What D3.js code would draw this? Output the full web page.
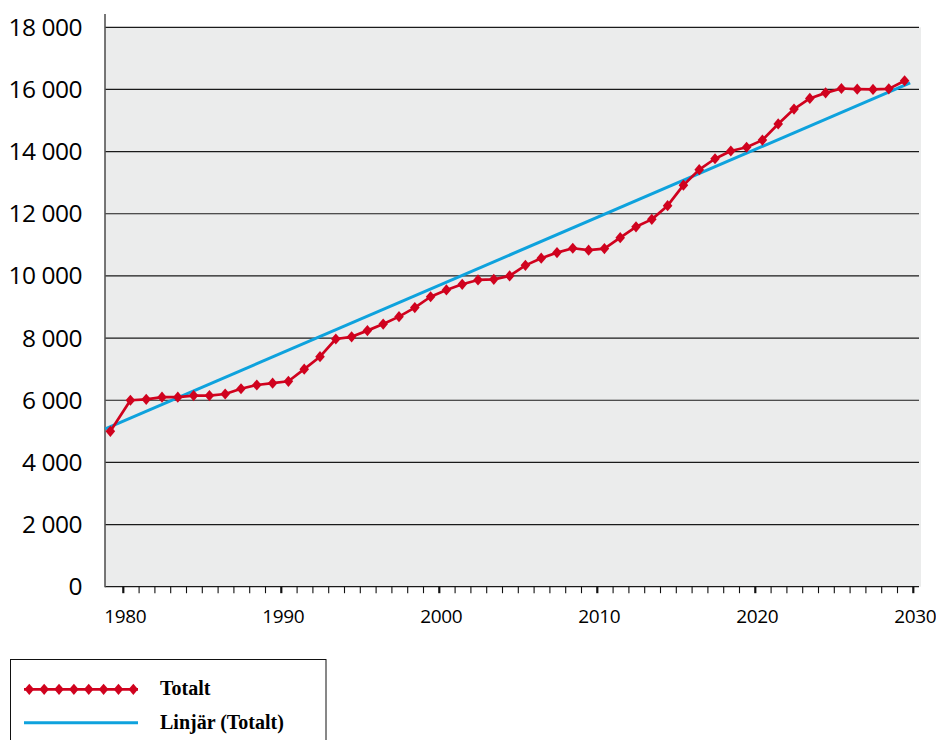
<!DOCTYPE html>
<html>
<head>
<meta charset="utf-8">
<script src="https://cdn.jsdelivr.net/npm/d3@7/dist/d3.min.js"></script>
<style>
  html, body { margin: 0; padding: 0; background: #fff; }
  svg { display: block; }
</style>
</head>
<body>
<svg id="chart" width="936" height="740"></svg>
<script>
// ---- data ----
const times = [1979.18, 1980.45, 1981.45, 1982.45, 1983.45, 1984.45, 1985.45, 1986.45, 1987.45, 1988.45,
  1989.45, 1990.45, 1991.45, 1992.45, 1993.45, 1994.45, 1995.45, 1996.45, 1997.45, 1998.45,
  1999.45, 2000.45, 2001.45, 2002.45, 2003.45, 2004.45, 2005.45, 2006.45, 2007.45, 2008.45,
  2009.45, 2010.45, 2011.45, 2012.45, 2013.45, 2014.45, 2015.45, 2016.45, 2017.45, 2018.45,
  2019.45, 2020.45, 2021.45, 2022.45, 2023.45, 2024.45, 2025.45, 2026.45, 2027.45, 2028.45,
  2029.45];
const totalt = [5000, 6000, 6030, 6100, 6100, 6150, 6150, 6200, 6370, 6490,
  6550, 6610, 7000, 7400, 7970, 8040, 8240, 8450, 8690, 8980,
  9330, 9550, 9730, 9870, 9890, 10000, 10340, 10570, 10750, 10890,
  10830, 10880, 11230, 11580, 11820, 12260, 12920, 13420, 13770, 14020,
  14140, 14370, 14890, 15370, 15710, 15890, 16030, 16010, 16000, 16020,
  16280];
const trendTimes = [1978.86, 2029.8];
const trendValues = [5080, 16210];
const yTicks = [0, 2000, 4000, 6000, 8000, 10000, 12000, 14000, 16000, 18000];
const xMajorTicks = [1980, 1990, 2000, 2010, 2020, 2030];
const xMinorTicks = d3.range(1980, 2031);
const legendLabels = ["Totalt", "Linjär (Totalt)"];

const RED = "#d0021e";
const BLUE = "#0ea2dd";

const svg = d3.select("#chart");

const plotLeft = 105, plotRight = 921, plotTop = 27.3, plotBottom = 586.7;
const x = d3.scaleLinear().domain([1980, 2030]).range([123.3, 913.3]);
const y = d3.scaleLinear().domain([0, 18000]).range([plotBottom, plotTop]);

// background
svg.append("rect")
  .attr("x", plotLeft).attr("y", plotTop)
  .attr("width", plotRight - plotLeft).attr("height", plotBottom - plotTop)
  .attr("fill", "#ebecec");

// gridlines
svg.append("g").selectAll("line").data(yTicks).join("line")
  .attr("x1", plotLeft).attr("x2", plotRight - 2)
  .attr("y1", d => y(d)).attr("y2", d => y(d))
  .attr("stroke", "#1a1a1a").attr("stroke-width", 1.2);

// y labels
const fmt = d => d === 0 ? "0" : d3.format(",")(d).replace(",", " ");
svg.append("g").selectAll("text").data(yTicks).join("text")
  .attr("x", 82).attr("y", d => y(d))
  .attr("dy", "0.35em")
  .attr("text-anchor", "end")
  .attr("font-family", "'Open Sans', sans-serif")
  .attr("font-size", 24.5)
  .attr("letter-spacing", "-0.5")
  .attr("fill", "#000")
  .text(fmt);

// left axis line
svg.append("line")
  .attr("x1", plotLeft).attr("x2", plotLeft)
  .attr("y1", 14).attr("y2", plotBottom + 0.5)
  .attr("stroke", "#555").attr("stroke-width", 1.6);

// x ticks
svg.append("g").selectAll("line").data(xMinorTicks).join("line")
  .attr("x1", d => x(d)).attr("x2", d => x(d))
  .attr("y1", plotBottom).attr("y2", plotBottom + 6.5)
  .attr("stroke", "#111")
  .attr("stroke-width", d => xMajorTicks.includes(d) ? 2.2 : 1.1);

svg.append("g").selectAll("text").data(xMajorTicks).join("text")
  .attr("x", d => x(d) + 2).attr("y", 623)
  .attr("text-anchor", "middle")
  .attr("font-family", "'Open Sans', sans-serif")
  .attr("font-size", 19)
  .attr("letter-spacing", "-0.4")
  .attr("fill", "#000")
  .text(d => d);

// trend line
const trend = trendTimes.map((t, i) => ({t, v: trendValues[i]}));
svg.append("path").datum(trend)
  .attr("d", d3.line().x(d => x(d.t)).y(d => y(d.v)))
  .attr("fill", "none").attr("stroke", BLUE).attr("stroke-width", 3);

// totalt line
const series = times.map((t, i) => ({t, v: totalt[i]}));
svg.append("path").datum(series)
  .attr("d", d3.line().x(d => x(d.t)).y(d => y(d.v)))
  .attr("fill", "none").attr("stroke", RED).attr("stroke-width", 2.7)
  .attr("stroke-linejoin", "round");

const diamond = "M0,-5.6L4.8,0L0,5.6L-4.8,0Z";
svg.append("g").selectAll("path").data(series).join("path")
  .attr("transform", d => `translate(${x(d.t)},${y(d.v)})`)
  .attr("d", diamond)
  .attr("fill", RED);

// legend
const lg = svg.append("g");
lg.append("rect")
  .attr("x", 10.5).attr("y", 659.5).attr("width", 315.5).attr("height", 100)
  .attr("fill", "#fff").attr("stroke", "#111").attr("stroke-width", 1);

lg.append("line").attr("x1", 24).attr("x2", 138).attr("y1", 689.3).attr("y2", 689.3)
  .attr("stroke", RED).attr("stroke-width", 2.7);
lg.append("g").selectAll("path").data(d3.range(8)).join("path")
  .attr("transform", i => `translate(${29.3 + i * 14.86},689.3)`)
  .attr("d", diamond).attr("fill", RED);
lg.append("line").attr("x1", 24).attr("x2", 138).attr("y1", 722.7).attr("y2", 722.7)
  .attr("stroke", BLUE).attr("stroke-width", 3);

lg.selectAll("text.leg").data(legendLabels).join("text")
  .attr("class", "leg")
  .attr("x", 160).attr("y", (d, i) => i === 0 ? 694.5 : 728.5)
  .attr("font-family", "'Liberation Serif', serif")
  .attr("font-weight", "bold")
  .attr("font-size", 20)
  .attr("fill", "#000")
  .text(d => d);
</script>
</body>
</html>
